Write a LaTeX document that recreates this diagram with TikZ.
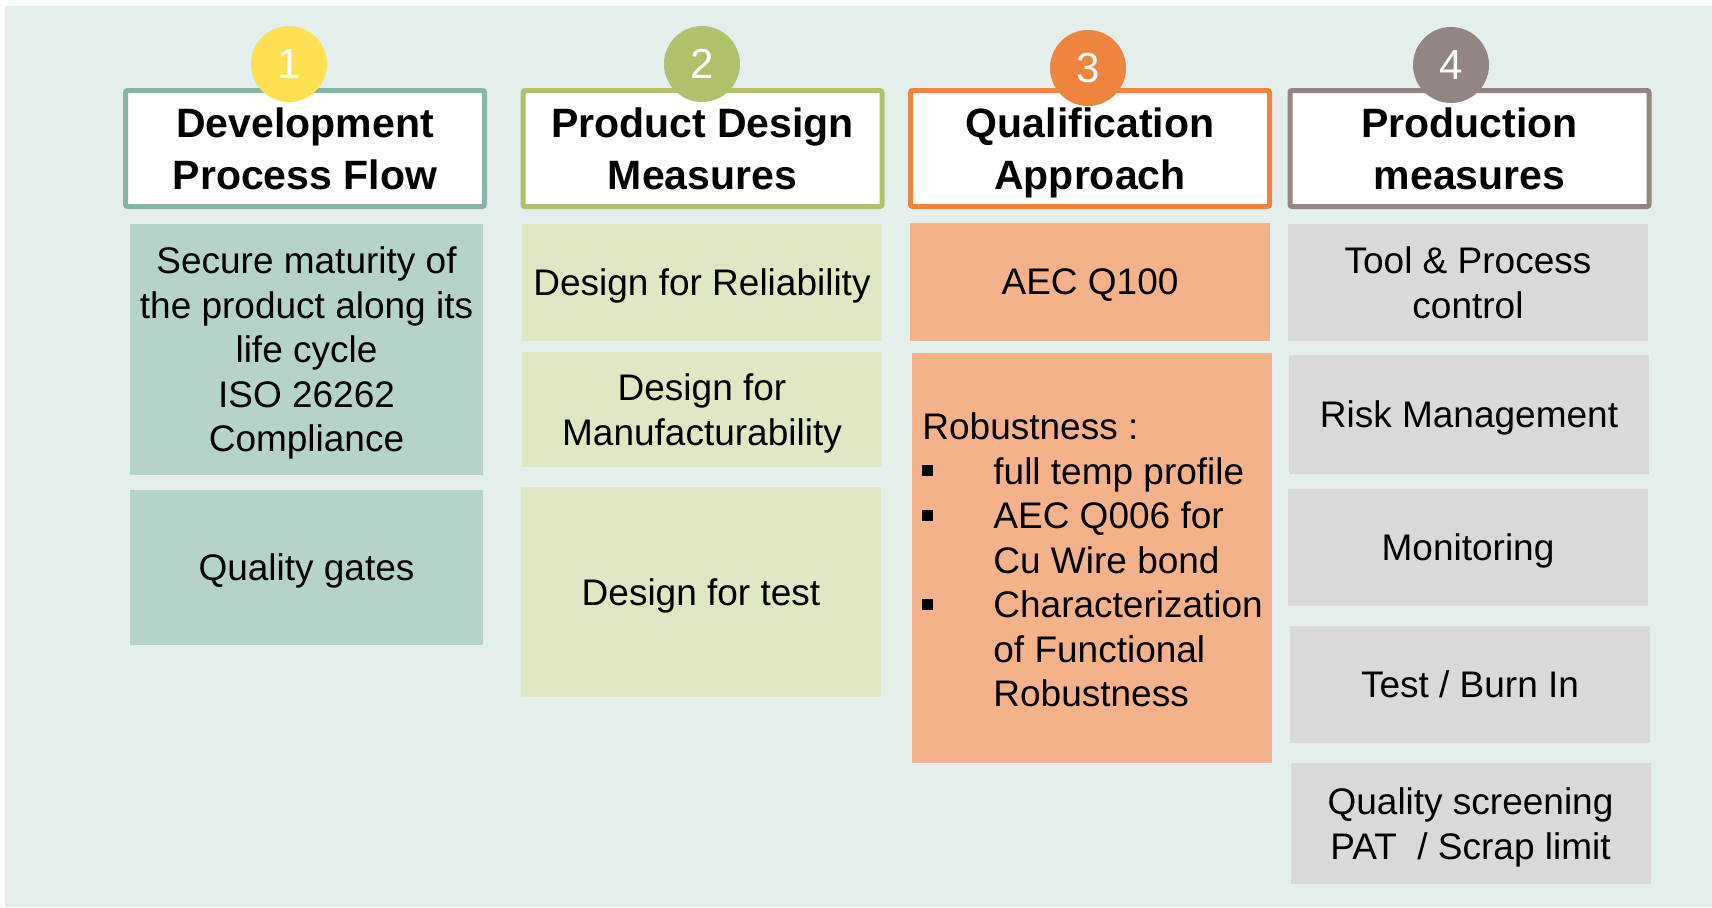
\documentclass[tikz,border=0pt]{standalone}
\usepackage{fontspec}
\setmainfont{Liberation Sans}
\definecolor{panelbg}{HTML}{E4EFEB}
\definecolor{cA}{HTML}{B5D3CB}
\definecolor{bA}{HTML}{84B5A8}
\definecolor{cB}{HTML}{DFE7C3}
\definecolor{bB}{HTML}{AFC26B}
\definecolor{cC}{HTML}{F4B28A}
\definecolor{bC}{HTML}{EF843E}
\definecolor{cD}{HTML}{D9D9D9}
\definecolor{bD}{HTML}{948585}
\definecolor{yel}{HTML}{FFE053}
\newcommand{\mybul}{\makebox[35.5pt][l]{\rule[4pt]{5.5pt}{5.5pt}}}
\newcommand{\myind}{\hspace*{35.5pt}}
\begin{document}
\begin{tikzpicture}[x=0.5pt,y=-0.5pt,
  hdr/.style={draw, line width=2.5pt, fill=white, minimum width=179.5pt, minimum height=58pt,
    inner sep=0pt, align=center, rounded corners=1pt, text depth=0pt,
    font=\fontsize{20.5}{26}\selectfont\bfseries},
  cell/.style={minimum width=180pt, inner sep=0pt, align=center, text depth=0pt,
    font=\fontsize{18.5}{22.25}\selectfont},
  num/.style={circle, minimum size=38pt, inner sep=0pt, text=white,
    font=\fontsize{21}{21}\selectfont}]
\useasboundingbox (0,0) rectangle (1712,907);
\fill[white] (0,0) rectangle (1712,907);
\fill[panelbg] (5,6) rectangle (1712,907);

% column 1
\node[hdr, draw=bA] (h1) at (305,148.5) {Development\\Process Flow};
\node[num, fill=yel] (n1) at (289,64) {1};
\node[cell, fill=cA, minimum width=176.5pt, minimum height=125.5pt] (a1) at (306.5,349.5)
  {Secure maturity of\\the product along its\\life cycle\\ISO 26262\\Compliance};
\node[cell, fill=cA, minimum width=176.5pt, minimum height=77.5pt] (a2) at (306.5,567.5) {Quality gates};

% column 2
\node[hdr, draw=bB] (h2) at (702.5,148.5) {Product Design\\Measures};
\node[num, fill=bB] (n2) at (702,64) {2};
\node[cell, fill=cB, minimum height=58.5pt] (b1) at (702,282.5) {Design for Reliability};
\node[cell, fill=cB, minimum height=57.5pt] (b2) at (702,409.5) {Design for\\Manufacturability};
\node[cell, fill=cB, minimum height=105pt] (b3) at (701,592) {Design for test};

% column 3
\node[hdr, draw=bC] (h3) at (1090,148.5) {Qualification\\Approach};
\node[num, fill=bC] (n3) at (1088,68) {3};
\node[cell, fill=cC, minimum height=59pt] (c1) at (1090,282) {AEC Q100};
\node[cell, fill=cC, minimum height=205pt] (c2) at (1092,558) {};
\node[inner sep=0pt, anchor=west, align=left, font=\fontsize{18.5}{22.25}\selectfont] (c2t) at (922,560)
  {Robustness :\\
   \mybul full temp profile\\
   \mybul AEC Q006 for\\
   \myind Cu Wire bond\\
   \mybul Characterization\\
   \myind of Functional\\
   \myind Robustness};

% column 4
\node[hdr, draw=bD] (h4) at (1469.5,148.5) {Production\\measures};
\node[num, fill=bD] (n4) at (1451,65) {4};
\node[cell, fill=cD, minimum height=58.5pt] (d1) at (1468,282.5) {Tool \& Process\\control};
\node[cell, fill=cD, minimum height=59.5pt] (d2) at (1469,414.5) {Risk Management};
\node[cell, fill=cD, minimum height=58.5pt] (d3) at (1468,547.5) {Monitoring};
\node[cell, fill=cD, minimum height=58.5pt] (d4) at (1470,684.5) {Test / Burn In};
\node[cell, fill=cD, minimum height=60.5pt] (d5) at (1470.5,823.5) {Quality screening\\PAT \ / Scrap limit};
\end{tikzpicture}
\end{document}
